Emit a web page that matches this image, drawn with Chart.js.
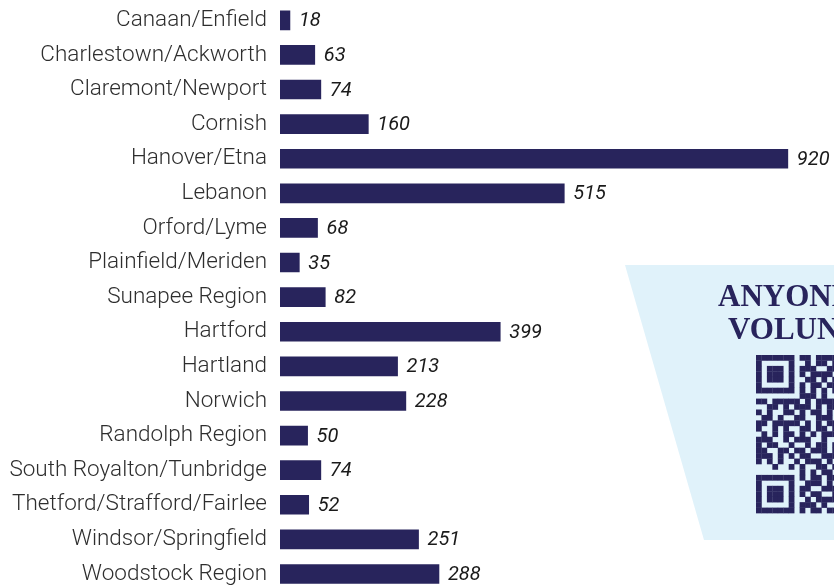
<!DOCTYPE html>
<html>
<head>
<meta charset="utf-8">
<script src="https://cdn.jsdelivr.net/npm/chart.js@4"></script>
<style>
  html, body { margin: 0; padding: 0; background: #fff; overflow: hidden; }
  #wrap { position: relative; width: 834px; height: 592px; }
</style>
</head>
<body>
<div id="wrap"><canvas id="chart"></canvas></div>
<script>
const categories = [
  "Canaan/Enfield", "Charlestown/Ackworth", "Claremont/Newport", "Cornish",
  "Hanover/Etna", "Lebanon", "Orford/Lyme", "Plainfield/Meriden",
  "Sunapee Region", "Hartford", "Hartland", "Norwich", "Randolph Region",
  "South Royalton/Tunbridge", "Thetford/Strafford/Fairlee",
  "Windsor/Springfield", "Woodstock Region"
];
const volunteers = [18, 63, 74, 160, 920, 515, 68, 35, 82, 399, 213, 228, 50, 74, 52, 251, 288];

const panelLines = ["ANYONE CAN", "VOLUNTEER"];
// left part of the QR code (visible slice), '#' = dark module
const qrRows = [
  "#######.##.####",
  "#.....#..#.##.#",
  "#.###.#.###..##",
  "#.###.#.#.####.",
  "#.###.#..##.#.#",
  "#.....#.#.##.##",
  "#######.#.#.#.#",
  "........###.#..",
  "##.#####.#.####",
  "..##.#.###.#.##",
  "#.#..##.#.##.#.",
  ".##.#..##..###.",
  "##.#####.#.#.##",
  "#..#.#..##.##.#",
  ".#.#.##.#.#.###",
  "###..#.###..#..",
  "#.##..#..#.##.#",
  "##..##.##.###.#",
  "###.#.#.##..###",
  "#.#.#..#.###.#.",
  "...#..#.#..##.#",
  "........#.#.##.",
  "#######.#.##.##",
  "#.....#..###.#.",
  "#.###.#.##..###",
  "#.###.#.#.##..#",
  "#.###.#..#.####",
  "#.....#.###.#..",
  "#######.#.##.##"
];

const NAVY = "#28245c";

// light blue volunteer panel with the QR code, behind the chart
const panelPlugin = {
  id: "panel",
  beforeDraw(chart) {
    const ctx = chart.ctx;
    ctx.save();
    ctx.fillStyle = "#e0f2fa";
    ctx.beginPath();
    ctx.moveTo(625, 265);
    ctx.lineTo(834, 265);
    ctx.lineTo(834, 540);
    ctx.lineTo(704, 540);
    ctx.closePath();
    ctx.fill();

    ctx.fillStyle = NAVY;
    ctx.font = "bold 31px 'Liberation Serif', serif";
    ctx.textBaseline = "alphabetic";
    ctx.textAlign = "left";
    ctx.fillText(panelLines[0], 718, 306);
    ctx.fillText(panelLines[1], 728, 339);

    const m = 5.45, x0 = 756, y0 = 355;
    qrRows.forEach((row, r) => {
      for (let c = 0; c < row.length; c++) {
        if (row[c] === "#") ctx.fillRect(x0 + c * m, y0 + r * m, m + 0.3, m + 0.3);
      }
    });
    ctx.restore();
  }
};

// italic value at the end of each bar
const valueLabels = {
  id: "valueLabels",
  afterDatasetsDraw(chart) {
    const ctx = chart.ctx;
    const meta = chart.getDatasetMeta(0);
    ctx.save();
    ctx.font = "italic 20px Roboto, sans-serif";
    ctx.fillStyle = "#1a1a1a";
    ctx.textAlign = "left";
    ctx.textBaseline = "middle";
    meta.data.forEach((bar, i) => {
      ctx.fillText(String(volunteers[i]), bar.x + 9, bar.y + 1);
    });
    ctx.restore();
  }
};

new Chart(document.getElementById("chart"), {
  type: "bar",
  data: {
    labels: categories,
    datasets: [{
      data: volunteers,
      backgroundColor: NAVY,
      borderWidth: 0,
      barThickness: 19
    }]
  },
  options: {
    indexAxis: "y",
    responsive: true,
    maintainAspectRatio: false,
    animation: false,
    layout: { padding: { top: 3, right: 2, bottom: 0.7, left: 0 } },
    plugins: { legend: { display: false }, tooltip: { enabled: false } },
    scales: {
      x: {
        display: false,
        min: 0,
        max: 1000
      },
      y: {
        grid: { display: false, drawTicks: false },
        border: { display: false },
        ticks: {
          color: "#2e2e2e",
          padding: 13,
          font: { family: "Roboto", size: 22.5, weight: "300" }
        },
        afterFit(scale) {
          scale.width = 280;
          scale.paddingTop = 0;
          scale.paddingBottom = 0;
        }
      }
    }
  },
  plugins: [panelPlugin, valueLabels]
});
</script>
</body>
</html>
